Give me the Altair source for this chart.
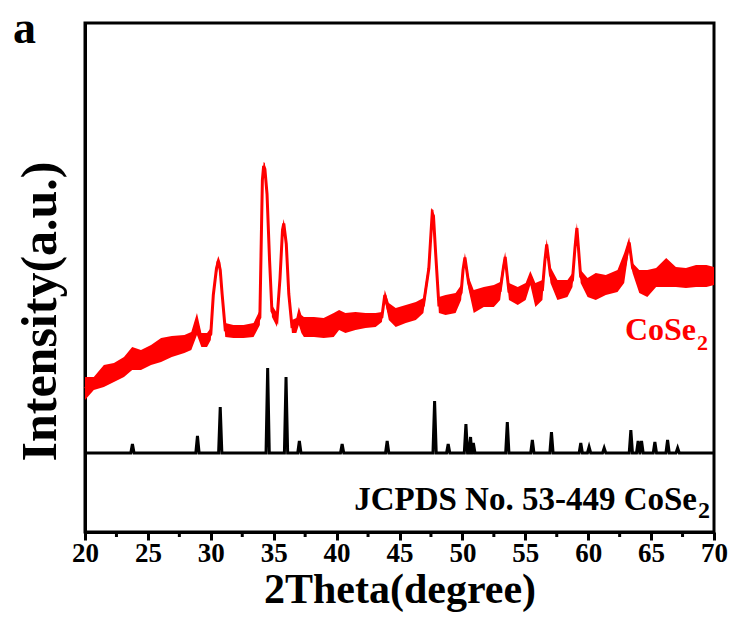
import altair as alt
import pandas as pd

# ---- measured CoSe2 pattern (noise band: lower / upper envelope, a.u.) ----
two_theta = [20.0, 20.7, 21.5, 22.3, 23.1, 23.75, 24.45, 25.25, 26.05, 26.9, 27.9, 28.45,
             28.9, 29.25, 29.7, 30.0, 30.2, 30.45, 30.6, 30.75, 30.9, 31.15, 31.8, 32.6,
             33.4, 33.9, 34.1, 34.2, 34.3, 34.47, 34.67, 34.86, 35.26, 35.5, 35.7, 35.8,
             36.0, 36.2, 36.45, 36.8, 37.0, 37.2, 37.4, 38.2, 38.97, 39.77, 40.2, 40.7,
             41.5, 42.3, 43.1, 43.6, 43.83, 44.15, 44.7, 45.5, 46.3, 46.9, 47.33, 47.6,
             47.7, 47.87, 48.13, 48.66, 49.46, 49.9, 50.05, 50.2, 50.5, 50.9, 51.7, 52.5,
             53.0, 53.25, 53.4, 53.7, 54.4, 55.03, 55.4, 55.8, 56.36, 56.55, 56.7, 57.0,
             57.55, 58.35, 58.75, 58.95, 59.1, 59.4, 59.95, 60.6, 61.4, 62.33, 62.86, 63.26,
             63.53, 64.06, 64.7, 65.4, 66.2, 66.97, 67.77, 68.57, 69.4, 70.0]
upper = [155, 155, 167, 169, 175, 185, 182, 187, 194, 196, 197, 200,
         219, 199, 199, 204, 242, 270, 276, 270, 244, 209, 207, 207,
         209, 222, 357, 370, 369, 344, 277, 227, 219, 260, 307, 313,
         294, 244, 212, 214, 225, 217, 215, 215, 214, 219, 222, 219,
         220, 219, 219, 220, 242, 229, 224, 227, 230, 234, 270, 323,
         322, 285, 235, 237, 239, 247, 267, 279, 255, 242, 245, 247,
         250, 270, 280, 249, 245, 249, 261, 249, 252, 277, 293, 265,
         252, 252, 259, 292, 309, 262, 254, 259, 257, 262, 279, 295,
         269, 262, 262, 264, 274, 265, 264, 267, 267, 265]
lower = [132, 142, 145, 150, 155, 162, 162, 167, 170, 175, 179, 182,
         197, 185, 185, 192, 232, 257, 266, 254, 232, 195, 194, 194,
         195, 207, 347, 362, 357, 332, 267, 215, 205, 247, 297, 304,
         282, 232, 199, 199, 207, 199, 195, 195, 194, 195, 202, 199,
         202, 204, 205, 210, 232, 212, 205, 209, 212, 219, 257, 314,
         310, 274, 219, 217, 219, 232, 257, 270, 242, 219, 225, 225,
         232, 257, 270, 232, 227, 232, 247, 225, 232, 264, 282, 249,
         232, 235, 245, 277, 299, 249, 235, 232, 237, 240, 249, 284,
         259, 239, 235, 245, 245, 245, 244, 245, 245, 247]

# ---- JCPDS No. 53-449 reference lines ----
ref_pos = [23.77, 28.94, 30.75, 34.52, 35.98, 37.04, 40.44, 44.02, 47.79, 48.87,
           50.28, 50.65, 50.87, 53.57, 55.56, 57.08, 59.41, 60.07, 61.27, 63.39,
           63.97, 64.24, 65.30, 66.31, 67.11]
ref_height = [9, 17, 46, 85, 76, 12, 9, 12, 52, 9,
              29, 16, 10, 31, 13, 21, 10, 6, 5, 23,
              12, 12, 11, 13, 5]
ref_base = 79

major_ticks = [20, 25, 30, 35, 40, 45, 50, 55, 60, 65, 70]
minor_ticks = [22.5, 27.5, 32.5, 37.5, 42.5, 47.5, 52.5, 57.5, 62.5, 67.5]

FONT = "Liberation Serif"
W, H = 629, 509

sample = pd.DataFrame({"two_theta": two_theta, "lo": lower, "hi": upper})
sample["intensity"] = (sample["lo"] + sample["hi"]) / 2

pts = [(20.0, ref_base), (70.0, ref_base)]
hw = 0.13
for p, h in zip(ref_pos, ref_height):
    pts += [(p - hw, ref_base), (p, ref_base + h), (p + hw, ref_base)]
pts.sort()
ref = pd.DataFrame(pts, columns=["two_theta", "intensity"])
ref["order"] = range(len(ref))

minor = pd.DataFrame({"two_theta": minor_ticks})

xscale = alt.Scale(domain=[20, 70], nice=False, zero=False)
yscale = alt.Scale(domain=[0, 509], nice=False, zero=False)
xaxis = alt.Axis(values=major_ticks, title="2Theta(degree)", grid=False,
                 domainColor="black", domainWidth=3, tickColor="black", tickWidth=3,
                 tickSize=8, labelFont=FONT, labelFontWeight="bold", labelFontSize=27,
                 labelColor="black", labelPadding=0, labelOverlap=False, labelFlush=False,
                 titleFont=FONT, titleFontWeight="bold", titleFontSize=42,
                 titleColor="black", titlePadding=3)
yaxis = alt.Axis(title="Intensity(a.u.)", grid=False, ticks=False, labels=False,
                 domainColor="black", domainWidth=3, titleFont=FONT,
                 titleFontWeight="bold", titleFontSize=50, titleColor="black",
                 titlePadding=30, titleBaseline="alphabetic", titleY=288)

X = alt.X("two_theta:Q", scale=xscale, axis=xaxis)
Y = alt.Y("intensity:Q", scale=yscale, axis=yaxis)

band = alt.Chart(sample).mark_area(color="#ff0000", interpolate="linear").encode(
    x=X, y=alt.Y("lo:Q", scale=yscale, axis=yaxis), y2="hi:Q")
red = alt.Chart(sample).mark_line(color="#ff0000", strokeWidth=3).encode(x=X, y=Y)
black = alt.Chart(ref).mark_line(color="black", strokeWidth=3).encode(
    x=X, y=Y, order="order:Q")
mticks = alt.Chart(minor).mark_rule(color="black", strokeWidth=3).encode(
    x=X, y=alt.value(H), y2=alt.value(H + 5))

def txt(s, x, y, size, color, align="left"):
    return alt.Chart(pd.DataFrame({"t": [s]})).mark_text(
        font=FONT, fontWeight="bold", fontSize=size, color=color,
        align=align, baseline="alphabetic").encode(
        x=alt.value(x), y=alt.value(y), text="t:N")

t_cose = txt("CoSe", 611, 317, 32, "#ff0000", "right")
t_cose2 = txt("2", 612, 327, 22, "#ff0000")
t_jc = txt("JCPDS No. 53-449 CoSe", 612, 487, 33, "black", "right")
t_jc2 = txt("2", 613, 495, 24, "black")
t_a = txt("a", -72, 20, 46, "black")

chart = alt.layer(band, red, black, mticks, t_cose, t_cose2, t_jc, t_jc2, t_a).properties(
    width=W, height=H,
    autosize=alt.AutoSizeParams(type="none"),
    padding={"left": 85, "top": 23, "right": 21, "bottom": 98},
    background="white",
).configure_view(stroke="black", strokeWidth=3)

chart.save("out.html", embed_options={"renderer": "svg", "actions": False})
